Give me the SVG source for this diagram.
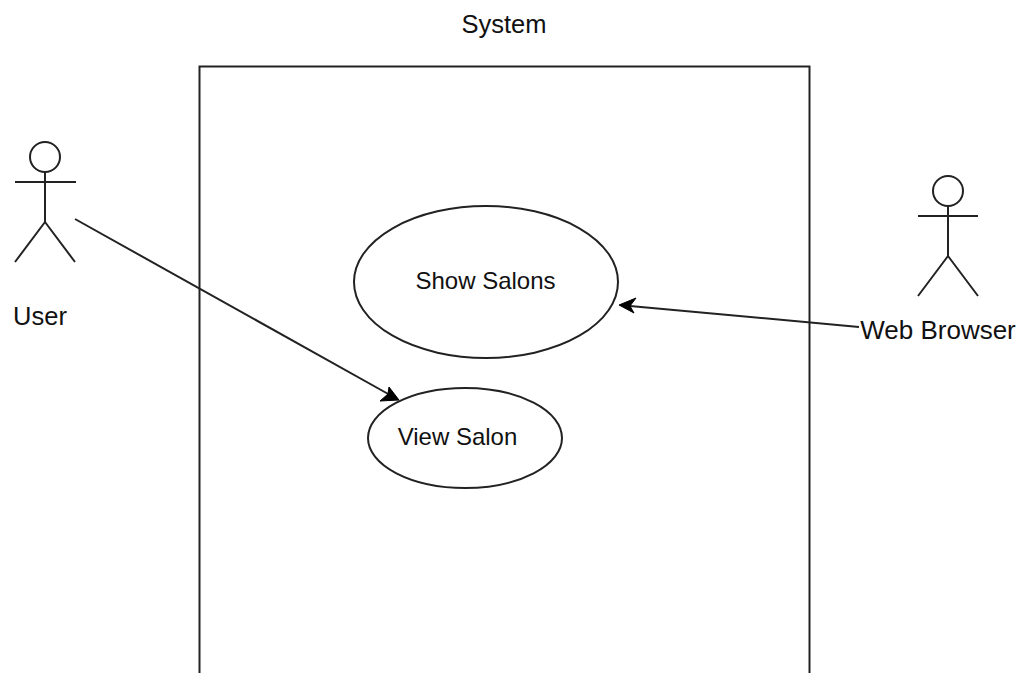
<svg xmlns="http://www.w3.org/2000/svg" width="1020" height="673" viewBox="0 0 1020 673">
<style>
.s{fill:none;stroke:#222;stroke-width:2}
.e{fill:#fff;stroke:#222;stroke-width:2}
text{font-family:"Liberation Sans",Arial,sans-serif;font-size:24px;fill:#111;text-anchor:middle}
.a{fill:#000;stroke:#000;stroke-width:1}
</style>
<rect width="1020" height="673" fill="#fff"/>
<g id="system"><rect class="s" x="199.500" y="66.500" width="610" height="620"/><text x="504" y="33" style="font-size:25.500px">System</text></g>
<g id="user"><circle class="s" cx="45" cy="157" r="15"/><path class="s" d="M45 172V222M15 182H76M45 222L15 262M45 222L75 262"/><text x="40" y="325" style="font-size:25.500px">User</text></g>
<g id="browser"><circle class="s" cx="948" cy="191" r="15"/><path class="s" d="M948 206V256M918 216H978M948 256L918 296M948 256L978 296"/><text x="938" y="339" style="font-size:26px">Web Browser</text></g>
<g id="show"><ellipse class="e" cx="486" cy="282" rx="132" ry="76"/><text x="485.500" y="289">Show Salons</text></g>
<g id="view"><ellipse class="e" cx="465" cy="438" rx="97" ry="50"/><text x="457.500" y="445">View Salon</text></g>
<g id="connectors">
<path class="s" d="M75 219L390 395"/><path class="a" d="M399 400L380 401L388 394L389 387Z"/>
<path class="s" d="M859 327L630 306"/><path class="a" d="M619 305L636 298L630 306L634 313Z"/>
</g>
</svg>
